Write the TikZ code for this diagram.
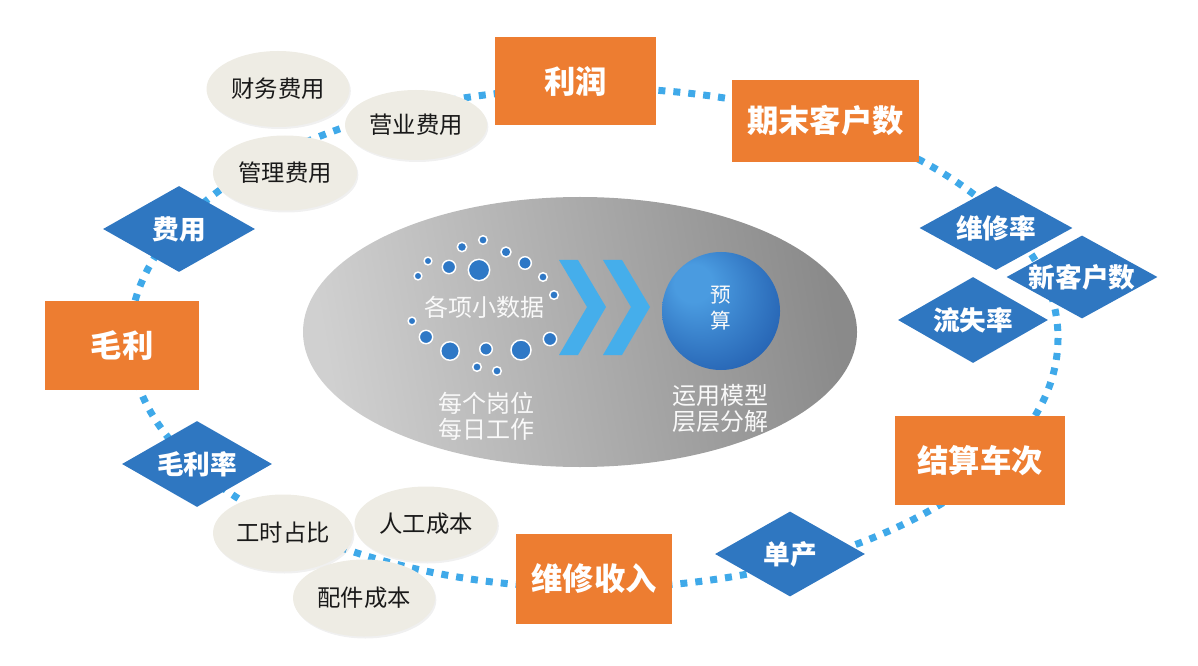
\documentclass[tikz,border=0pt]{standalone}
\usepackage{fontspec}
\setmainfont{Noto Sans CJK SC}
\usetikzlibrary{shapes.geometric,shadows}
\definecolor{orangeC}{HTML}{ED7D31}
\definecolor{diaC}{HTML}{2F77C1}
\definecolor{beigeC}{HTML}{EEECE4}
\definecolor{ringC}{HTML}{3FA9E9}
\definecolor{chevC}{HTML}{45AEEB}
\definecolor{dotC}{HTML}{2E78C6}
\definecolor{grayL}{HTML}{D0D0D0}
\definecolor{grayR}{HTML}{8A8A8A}
\definecolor{ballA}{HTML}{4A9BE0}
\definecolor{ballB}{HTML}{2562B2}
\definecolor{ballC}{HTML}{0B2F6E}
\pgfdeclareradialshading{ballsh}{\pgfpoint{-14bp}{14bp}}{color(0bp)=(ballA); color(8bp)=(ballA); color(34bp)=(ballB); color(50bp)=(ballC)}
\tikzset{
  ring/.style={draw=ringC, line width=5.25pt, dash pattern=on 5.25pt off 6pt},
  obox/.style 2 args={rectangle, fill=orangeC, text=white, inner sep=0pt,
    font=\bfseries\fontsize{23.5}{28}\selectfont,
    minimum width=#1*0.75pt, minimum height=#2*0.75pt},
  dia/.style 2 args={diamond, fill=diaC, inner sep=0pt, aspect=1.75,
    minimum width=#1*0.75pt, minimum height=#2*0.75pt},
  dtext/.style={text=white, inner sep=0pt, font=\bfseries\fontsize{20}{24}\selectfont},
  bell/.style 2 args={ellipse, fill=beigeC, inner sep=0pt, text=black!90,
    font=\fontsize{17.5}{21}\selectfont,
    drop shadow={opacity=0.12, shadow xshift=1pt, shadow yshift=-1.5pt},
    minimum width=#1*0.75pt, minimum height=#2*0.75pt},
  ctext/.style={text=white!95!gray, align=center, inner sep=0pt,
    font=\fontsize{18}{19.5}\selectfont},
  sdot/.style={fill=dotC, draw=white, line width=1.1pt},
  chev/.style={fill=chevC}
}
\begin{document}
\begin{tikzpicture}[x=0.75pt,y=-0.75pt]
\useasboundingbox (0,0) rectangle (1198,666);
% dotted ring
\draw[ring] (594,338) ellipse [x radius=464, y radius=250];
% central ellipse
\node[ellipse, inner sep=0pt, minimum width=554*0.75pt, minimum height=270*0.75pt,
  left color=grayL, right color=grayR, shading angle=100] (core) at (580,332) {};
% blue dots
\foreach \x/\y/\r [count=\i] in {479/270/10.7, 449/267/6.7, 428/261/3.9, 418/276/3.9,
  462/247/4.7, 483/240/4.3, 506/252/5, 525/263/6.3, 543/277/4.3, 554/295/4.3,
  412/321/3.9, 426/337/6.7, 450/351/9.3, 486/349/6.3, 477/367/4.3, 497/371/4.3,
  521/350/10, 550/339/6.7}
  \path[sdot] (\x,\y) circle [radius=\r];
\node[ctext] (data) at (484,307) {各项小数据};
\node[ctext] (work) at (486,416) {每个岗位\\每日工作};
% chevrons
\fill[chev] (559,260) -- (578,260) -- (606,307) -- (578,355) -- (559,355) -- (587,307) -- cycle;
\fill[chev] (603,260) -- (622,260) -- (650,307) -- (622,355) -- (603,355) -- (631,307) -- cycle;
% ball
\node[circle, inner sep=0pt, minimum size=118*0.75pt, shading=ballsh] (ball) at (721,311) {};
\node[ctext, font=\fontsize{15.5}{20}\selectfont] (yusuan) at (721,308) {预\\算};
\node[ctext] (model) at (720,408) {运用模型\\层层分解};
% orange boxes
\node[obox={161}{88}] (lirun) at (575.5,81) {利润};
\node[obox={187}{82}] (qimo) at (825.5,121) {期末客户数};
\node[obox={170}{89}] (jiesuan) at (980,460.5) {结算车次};
\node[obox={156}{90}] (weixiu) at (594,579) {维修收入};
\node[obox={154}{89}] (maoli) at (122,345.5) {毛利};
% diamonds
\node[dia={152}{86}, label={[dtext]center:费用}] (feiyong) at (179,229) {};
\node[dia={153}{84}, label={[dtext]center:维修率}] (weixiulv) at (996,228) {};
\node[dia={151}{83}, label={[dtext]center:新客户数}] (xinkehu) at (1082,277) {};
\node[dia={150}{86}, label={[dtext]center:流失率}] (liushi) at (973,320) {};
\node[dia={150}{86}, label={[dtext]center:毛利率}] (maolilv) at (197,464) {};
\node[dia={150}{85}, label={[dtext]center:单产}] (danchan) at (790,554) {};
% beige ellipses
\node[bell={143}{76}] (caiwu) at (278,89) {财务费用};
\node[bell={142}{70}] (yingye) at (416,125) {营业费用};
\node[bell={144}{75}] (guanli) at (285,173) {管理费用};
\node[bell={140}{77}] (gongshi) at (283,533) {工时占比};
\node[bell={143}{75}] (rengong) at (426,524) {人工成本};
\node[bell={142}{77}] (peijian) at (364,598) {配件成本};
\end{tikzpicture}
\end{document}
